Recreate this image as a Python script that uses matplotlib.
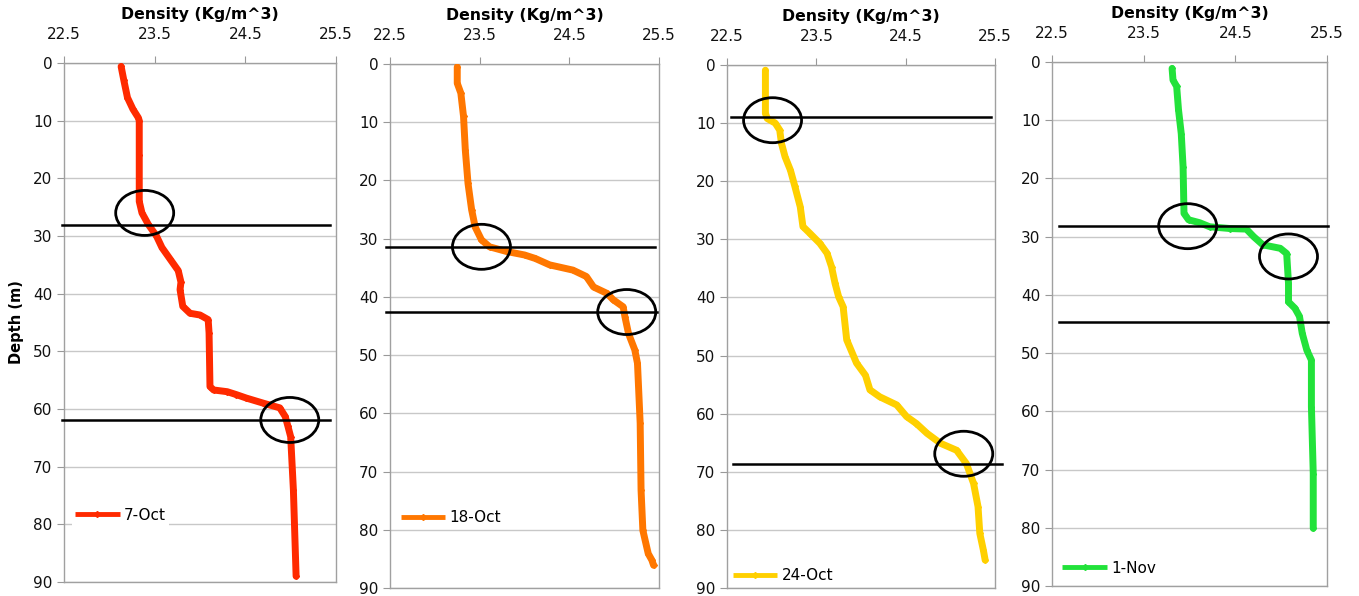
import matplotlib
matplotlib.use("Agg")
import matplotlib.pyplot as plt
from matplotlib.patches import Ellipse

# ── Profils de densite (Kg/m^3) en fonction de la profondeur (m) ──────────
labels = ["7-Oct", "18-Oct", "24-Oct", "1-Nov"]
colors = ["#FF2A00", "#FF7700", "#FFD000", "#22E23A"]

depth_oct07 = [0.6, 3, 6, 8, 9.5, 10, 16, 22, 24, 26, 28, 30, 32, 34, 36, 38,
               39.3, 42.2, 43.4, 43.7, 44.5, 46.8, 56.1, 56.7, 57, 57.5, 58.1,
               59, 59.8, 61.3, 63, 64.8, 74, 89]
dens_oct07 = [23.13, 23.16, 23.20, 23.26, 23.32, 23.33, 23.33, 23.33, 23.33,
              23.36, 23.43, 23.52, 23.58, 23.67, 23.76, 23.79, 23.78, 23.81,
              23.89, 24.00, 24.09, 24.10, 24.11, 24.15, 24.30, 24.40, 24.51,
              24.70, 24.88, 24.94, 24.97, 25.00, 25.03, 25.06]

depth_oct18 = [0.5, 3.3, 5, 9, 14.8, 20.5, 25, 28, 30.2, 31.4, 32.2, 32.8,
               33.4, 34.5, 35.4, 36.5, 38.3, 39.4, 40.5, 41.7, 43.4, 46.3,
               49.1, 51.4, 61.7, 73.2, 80.1, 84.1, 85.2, 86.1]
dens_oct18 = [23.25, 23.25, 23.29, 23.32, 23.34, 23.37, 23.41, 23.45, 23.52,
              23.61, 23.80, 24.00, 24.12, 24.28, 24.54, 24.69, 24.77, 24.92,
              24.99, 25.10, 25.12, 25.16, 25.23, 25.26, 25.29, 25.30, 25.32,
              25.38, 25.42, 25.44]

depth_oct24 = [0.9, 8.3, 9.2, 10, 11.2, 13.5, 15.8, 18.1, 20.9, 24.4, 27.8,
               29, 30.7, 32.4, 34.7, 37.6, 39.9, 41.6, 47.3, 51.3, 53.4, 55.9,
               57.1, 58.5, 60.5, 61.7, 63.4, 65.1, 66.3, 68.6, 72, 76, 80.6,
               83.5, 85.2]
dens_oct24 = [22.93, 22.93, 22.95, 23.04, 23.09, 23.11, 23.15, 23.21, 23.26,
              23.32, 23.35, 23.43, 23.54, 23.62, 23.67, 23.71, 23.75, 23.80,
              23.84, 23.95, 24.05, 24.10, 24.21, 24.40, 24.51, 24.62, 24.74,
              24.89, 25.07, 25.18, 25.26, 25.31, 25.33, 25.37, 25.39]

depth_nov01 = [1.1, 3.1, 4.2, 8.2, 12.3, 18, 26, 27.1, 27.6, 28.3, 28.6, 28.7,
               30, 31.4, 32, 32.9, 38, 41.2, 42.3, 43.7, 46.6, 49.5, 51.2,
               59.2, 70.7, 80.1]
dens_nov01 = [23.81, 23.82, 23.86, 23.88, 23.91, 23.93, 23.94, 23.99, 24.11,
              24.22, 24.44, 24.62, 24.70, 24.80, 24.99, 25.06, 25.08, 25.08,
              25.15, 25.20, 25.23, 25.28, 25.33, 25.33, 25.35, 25.35]

depths = [depth_oct07, depth_oct18, depth_oct24, depth_nov01]
densities = [dens_oct07, dens_oct18, dens_oct24, dens_nov01]

# profondeurs des limites de couches (lignes noires) et etendue en x
layer_depths = [[28.1, 61.9], [31.4, 42.6], [9.0, 68.6], [28.1, 44.7]]
layer_x = [[(22.48, 25.43), (22.48, 25.43)],
           [(22.46, 25.45), (22.46, 25.48)],
           [(22.55, 25.45), (22.57, 25.58)],
           [(22.58, 25.51), (22.58, 25.51)]]

# cercles (centre densite, centre profondeur)
circles = [[(23.39, 26.0), (24.99, 61.9)],
           [(23.52, 31.4), (25.14, 42.6)],
           [(23.01, 9.5), (25.15, 66.9)],
           [(23.98, 28.2), (25.08, 33.4)]]

x_ticks = [22.5, 23.5, 24.5, 25.5]
y_ticks = [0, 10, 20, 30, 40, 50, 60, 70, 80, 90]

# position des axes en pixels (gauche, droite, haut, bas) sur 1359x596
W, H = 1359, 596
boxes = [(64, 336, 63, 582), (390, 659, 64, 588),
         (727, 995, 65, 588), (1052, 1327, 62, 586)]
legend_pos = [(0.03, 0.129), (0.028, 0.134), (0.010, 0.024), (0.027, 0.034)]

fig = plt.figure(figsize=(W / 100, H / 100), dpi=100)
fig.patch.set_facecolor("white")

for i in range(4):
    l, r, t, b = boxes[i]
    ax = fig.add_axes([l / W, (H - b) / H, (r - l) / W, (b - t) / H])

    ax.plot(densities[i], depths[i], color=colors[i], lw=5.0, marker="D",
            markersize=3, solid_joinstyle="round", solid_capstyle="round",
            label=labels[i], zorder=3)

    for d, (x0, x1) in zip(layer_depths[i], layer_x[i]):
        ax.plot([x0, x1], [d, d], color="black", lw=1.8, clip_on=False,
                zorder=4)

    px_per_unit = (r - l) / 3.0
    px_per_m = (b - t) / 90.0
    for cx, cy in circles[i]:
        ax.add_patch(Ellipse((cx, cy), 58 / px_per_unit, 45 / px_per_m,
                             fill=False, edgecolor="black", lw=2.0,
                             clip_on=False, zorder=5))

    ax.set_xlim(22.5, 25.5)
    ax.set_ylim(90, 0)
    ax.set_xticks(x_ticks)
    ax.set_xticklabels(["22.5", "23.5", "24.5", "25.5"])
    ax.set_yticks(y_ticks)
    ax.xaxis.tick_top()
    ax.xaxis.set_label_position("top")
    ax.tick_params(axis="both", labelsize=11, length=5, color="#999999",
                   labelcolor="#111111")
    ax.tick_params(axis="x", pad=10)
    ax.grid(axis="y", color="#C8C8C8", lw=1.0)
    ax.set_axisbelow(True)
    for sp in ax.spines.values():
        sp.set_color("#A0A0A0")
        sp.set_linewidth(1.0)

    ax.set_xlabel("Density (Kg/m^3)", fontsize=11.3, fontweight="bold",
                  labelpad=6)
    if i == 0:
        ax.set_ylabel("Depth (m)", fontsize=10.5, fontweight="bold",
                      labelpad=6)

    leg = ax.legend(loc="center left", bbox_to_anchor=legend_pos[i],
                    fontsize=11, frameon=True, facecolor="white",
                    edgecolor="none", framealpha=1, fancybox=False,
                    handlelength=2.9, handletextpad=0.3, borderpad=0.2,
                    borderaxespad=0)
    for h in leg.legend_handles:
        h.set_linewidth(3.5)
        h.set_solid_capstyle("butt")

plt.savefig("out.png", dpi=100, facecolor="white")
plt.close(fig)
